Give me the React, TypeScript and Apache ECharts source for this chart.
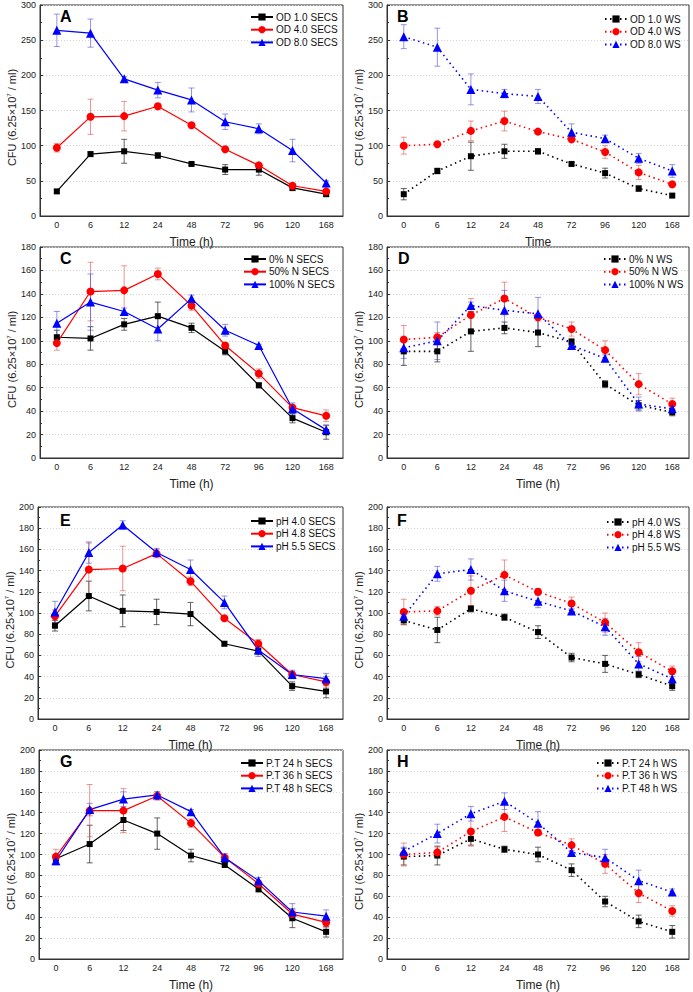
import { useEffect, useRef } from 'react';
import * as echarts from 'echarts';

const hours = ['0', '6', '12', '24', '48', '72', '96', '120', '168'];

// A: OD, SECS
const aOd10 = [35, 88, 92, 86, 74, 66, 66, 40, 31];
const aOd10Err = [2, 3, 17, 4, 2, 7, 8, 4, 3];
const aOd40 = [97, 141, 142, 156, 129, 95, 72, 43, 35];
const aOd40Err = [6, 25, 21, 4, 3, 2, 3, 2, 3];
const aOd80 = [264, 260, 195, 179, 165, 134, 124, 93, 47];
const aOd80Err = [23, 20, 3, 11, 17, 11, 7, 16, 3];

// B: OD, WS
const bOd10 = [31, 64, 85, 92, 92, 74, 61, 39, 29];
const bOd10Err = [8, 4, 20, 10, 4, 2, 7, 4, 2];
const bOd40 = [100, 102, 121, 135, 120, 109, 91, 62, 45];
const bOd40Err = [12, 2, 14, 14, 2, 4, 9, 10, 4];
const bOd80 = [255, 240, 180, 174, 170, 119, 110, 82, 64];
const bOd80Err = [17, 27, 22, 6, 10, 12, 5, 7, 9];

// C: nitrogen, SECS
const cN0 = [103, 102, 114, 121, 111, 91, 62, 34, 22];
const cN0Err = [6, 10, 5, 12, 4, 3, 2, 4, 6];
const cN50 = [98, 142, 143, 157, 130, 96, 72, 43, 36];
const cN50Err = [6, 25, 21, 5, 4, 2, 4, 2, 5];
const cN100 = [115, 133, 125, 110, 136, 109, 96, 42, 24];
const cN100Err = [10, 24, 3, 10, 3, 5, 1, 5, 4];

// D: nitrogen, WS
const dN0 = [91, 91, 108, 111, 107, 99, 63, 45, 39];
const dN0Err = [12, 9, 17, 5, 12, 3, 3, 4, 3];
const dN50 = [101, 103, 122, 136, 120, 110, 92, 63, 46];
const dN50Err = [12, 4, 14, 14, 3, 6, 8, 9, 5];
const dN100 = [94, 100, 130, 126, 123, 96, 85, 46, 42];
const dN100Err = [9, 16, 3, 17, 14, 2, 3, 6, 3];

// E: pH, SECS
const ePh40 = [88, 116, 102, 101, 99, 71, 64, 31, 26];
const ePh40Err = [5, 14, 15, 12, 11, 2, 3, 4, 6];
const ePh48 = [97, 141, 142, 156, 130, 95, 71, 42, 35];
const ePh48Err = [6, 25, 21, 4, 4, 2, 4, 3, 5];
const ePh55 = [101, 157, 183, 157, 141, 110, 65, 42, 38];
const ePh55Err = [10, 10, 4, 4, 9, 6, 6, 4, 5];

// F: pH, WS
const fPh40 = [93, 84, 104, 96, 82, 58, 52, 42, 31];
const fPh40Err = [4, 12, 3, 3, 6, 4, 8, 3, 4];
const fPh48 = [101, 102, 121, 136, 120, 109, 91, 63, 45];
const fPh48Err = [12, 4, 14, 14, 3, 6, 9, 9, 5];
const fPh55 = [97, 137, 141, 121, 111, 102, 87, 52, 38];
const fPh55Err = [6, 7, 10, 10, 6, 2, 8, 7, 4];

// G: pre-treatment time, SECS
const gPt24 = [96, 110, 133, 120, 99, 90, 67, 39, 26];
const gPt24Err = [4, 18, 10, 15, 6, 2, 3, 9, 5];
const gPt36 = [98, 142, 142, 156, 130, 97, 72, 43, 35];
const gPt36Err = [7, 25, 21, 4, 4, 2, 3, 4, 5];
const gPt48 = [94, 143, 153, 157, 141, 97, 75, 45, 41];
const gPt48Err = [4, 6, 7, 3, 2, 4, 3, 8, 6];

// H: pre-treatment time, WS
const hPt24 = [98, 99, 115, 105, 100, 85, 55, 36, 26];
const hPt24Err = [8, 9, 6, 3, 7, 6, 5, 6, 6];
const hPt36 = [100, 102, 122, 136, 121, 109, 91, 63, 46];
const hPt36Err = [11, 5, 14, 14, 3, 6, 9, 9, 5];
const hPt48 = [103, 120, 139, 151, 130, 102, 97, 75, 64];
const hPt48Err = [4, 9, 7, 8, 11, 2, 8, 10, 3];

const FONT = '"Liberation Sans", Arial, sans-serif';
const COLORS = ['#000000', '#ff0000', '#0000ff'];
const ERR_COLORS = ['rgba(50,50,50,0.75)', 'rgba(225,80,80,0.6)', 'rgba(80,80,210,0.6)'];
const SYMBOLS = ['rect', 'circle', 'triangle'];
const SYMBOL_SIZES = [6, 8, 9];

interface Panel {
  letter: string;
  names: string[];
  values: number[][];
  errs: number[][];
  dotted: boolean;
  max: number;
  interval: number;
  xName: string;
  grid: { left: number; top: number; width: number; height: number };
  letterPos: [number, number];
  legendPos: [number, number];
}

const panels: Panel[] = [
  {
    letter: 'A', names: ['OD 1.0 SECS', 'OD 4.0 SECS', 'OD 8.0 SECS'],
    values: [aOd10, aOd40, aOd80], errs: [aOd10Err, aOd40Err, aOd80Err],
    dotted: false, max: 300, interval: 50, xName: 'Time (h)',
    grid: { left: 40, top: 5, width: 303, height: 211 }, letterPos: [60, 8], legendPos: [250, 12],
  },
  {
    letter: 'B', names: ['OD 1.0 WS', 'OD 4.0 WS', 'OD 8.0 WS'],
    values: [bOd10, bOd40, bOd80], errs: [bOd10Err, bOd40Err, bOd80Err],
    dotted: true, max: 300, interval: 50, xName: 'Time',
    grid: { left: 387, top: 5, width: 302, height: 211 }, letterPos: [397, 8], legendPos: [604, 14],
  },
  {
    letter: 'C', names: ['0% N SECS', '50% N SECS', '100% N SECS'],
    values: [cN0, cN50, cN100], errs: [cN0Err, cN50Err, cN100Err],
    dotted: false, max: 180, interval: 20, xName: 'Time (h)',
    grid: { left: 40, top: 247, width: 303, height: 211 }, letterPos: [60, 250], legendPos: [243, 254],
  },
  {
    letter: 'D', names: ['0% N WS', '50% N WS', '100% N WS'],
    values: [dN0, dN50, dN100], errs: [dN0Err, dN50Err, dN100Err],
    dotted: true, max: 180, interval: 20, xName: 'Time (h)',
    grid: { left: 387, top: 247, width: 302, height: 211 }, letterPos: [398, 250], legendPos: [603, 254],
  },
  {
    letter: 'E', names: ['pH 4.0 SECS', 'pH 4.8 SECS', 'pH 5.5 SECS'],
    values: [ePh40, ePh48, ePh55], errs: [ePh40Err, ePh48Err, ePh55Err],
    dotted: false, max: 200, interval: 20, xName: 'Time (h)',
    grid: { left: 38, top: 507, width: 305, height: 212 }, letterPos: [60, 512], legendPos: [250, 516],
  },
  {
    letter: 'F', names: ['pH 4.0 WS', 'pH 4.8 WS', 'pH 5.5 WS'],
    values: [fPh40, fPh48, fPh55], errs: [fPh40Err, fPh48Err, fPh55Err],
    dotted: true, max: 200, interval: 20, xName: 'Time (h)',
    grid: { left: 387, top: 507, width: 302, height: 212 }, letterPos: [397, 512], legendPos: [606, 517],
  },
  {
    letter: 'G', names: ['P.T 24 h SECS', 'P.T 36 h SECS', 'P.T 48 h SECS'],
    values: [gPt24, gPt36, gPt48], errs: [gPt24Err, gPt36Err, gPt48Err],
    dotted: false, max: 200, interval: 20, xName: 'Time (h)',
    grid: { left: 39, top: 750, width: 304, height: 211 }, letterPos: [60, 753], legendPos: [240, 758],
  },
  {
    letter: 'H', names: ['P.T 24 h WS', 'P.T 36 h WS', 'P.T 48 h WS'],
    values: [hPt24, hPt36, hPt48], errs: [hPt24Err, hPt36Err, hPt48Err],
    dotted: true, max: 200, interval: 20, xName: 'Time (h)',
    grid: { left: 387, top: 750, width: 302, height: 211 }, letterPos: [397, 753], legendPos: [596, 758],
  },
];

function errorBarRender(color: string) {
  return (_params: any, api: any) => {
    const x = api.value(0);
    const y = api.value(1);
    const e = api.value(2);
    const hi = api.coord([x, y + e]);
    const lo = api.coord([x, y - e]);
    const cap = 3;
    const style = { stroke: color, lineWidth: 1 };
    return {
      type: 'group',
      children: [
        { type: 'line', shape: { x1: hi[0], y1: hi[1], x2: lo[0], y2: lo[1] }, style },
        { type: 'line', shape: { x1: hi[0] - cap, y1: hi[1], x2: hi[0] + cap, y2: hi[1] }, style },
        { type: 'line', shape: { x1: lo[0] - cap, y1: lo[1], x2: lo[0] + cap, y2: lo[1] }, style },
      ],
    };
  };
}

function buildOption(): echarts.EChartsOption {
  const grid: any[] = [];
  const xAxis: any[] = [];
  const yAxis: any[] = [];
  const legend: any[] = [];
  const series: any[] = [];
  const graphic: any[] = [];

  panels.forEach((p, pi) => {
    grid.push({ ...p.grid, show: true, borderColor: '#333', borderWidth: 1, backgroundColor: 'transparent' });
    xAxis.push({
      type: 'category',
      gridIndex: pi,
      data: hours,
      boundaryGap: true,
      name: p.xName,
      nameLocation: 'middle',
      nameGap: 20,
      nameTextStyle: { fontFamily: FONT, fontSize: 12, color: '#222' },
      axisLine: { lineStyle: { color: '#333', width: 1 } },
      axisTick: { alignWithLabel: true, length: 3, lineStyle: { color: '#333' } },
      axisLabel: { fontFamily: FONT, fontSize: 9, color: '#222', margin: 4 },
      splitLine: { show: false },
    });
    yAxis.push({
      type: 'value',
      gridIndex: pi,
      min: 0,
      max: p.max,
      interval: p.interval,
      name: 'CFU (6.25×10{s|7} / ml)',
      nameLocation: 'middle',
      nameRotate: 90,
      nameGap: pi % 2 === 0 ? 22 : 23,
      nameTextStyle: {
        fontFamily: FONT,
        fontSize: 11,
        color: '#222',
        padding: [0, 0, 0, -14],
        rich: { s: { fontFamily: FONT, fontSize: 6, color: '#222', verticalAlign: 'top', lineHeight: 8, padding: [0, 0, 5, 0] } },
      },
      axisLine: { show: true, lineStyle: { color: '#333', width: 1 } },
      axisTick: { show: true, inside: true, length: 3, lineStyle: { color: '#333' } },
      minorTick: { show: true, splitNumber: 2, length: 2, lineStyle: { color: '#333' } },
      axisLabel: { fontFamily: FONT, fontSize: 9, color: '#222', margin: 4 },
      splitLine: { show: true, lineStyle: { color: '#d4d4d4', type: [1, 2], width: 1 } },
    });
    legend.push({
      data: p.names,
      left: p.legendPos[0],
      top: p.legendPos[1],
      orient: 'vertical',
      itemWidth: 22,
      itemHeight: 9,
      itemGap: 2.7,
      padding: 0,
      selectedMode: false,
      textStyle: { fontFamily: FONT, fontSize: 10, color: '#111', padding: [0, 0, 0, -2] },
    });
    graphic.push({
      type: 'text',
      left: p.letterPos[0],
      top: p.letterPos[1],
      style: { text: p.letter, font: `bold 16px ${FONT}`, fill: '#000' },
    });

    p.names.forEach((name, si) => {
      series.push({
        type: 'custom',
        name: `${name} err`,
        xAxisIndex: pi,
        yAxisIndex: pi,
        z: 1,
        renderItem: errorBarRender(ERR_COLORS[si]),
        data: p.values[si].map((v, i) => [i, v, p.errs[si][i]]),
      });
      series.push({
        type: 'line',
        name,
        xAxisIndex: pi,
        yAxisIndex: pi,
        z: 3,
        data: p.values[si],
        symbol: SYMBOLS[si],
        symbolSize: SYMBOL_SIZES[si],
        itemStyle: { color: COLORS[si] },
        lineStyle: p.dotted
          ? { color: COLORS[si], width: 1.6, type: [1.5, 3.5] }
          : { color: COLORS[si], width: 1.2, type: 'solid' },
      });
    });
  });

  return {
    animation: false,
    backgroundColor: '#ffffff',
    grid,
    xAxis,
    yAxis,
    legend,
    series,
    graphic,
  };
}

export default function App() {
  const ref = useRef<HTMLDivElement>(null);

  useEffect(() => {
    if (!ref.current) return;
    const chart = echarts.init(ref.current, undefined, { renderer: 'svg' });
    chart.setOption(buildOption());
    return () => {
      chart.dispose();
    };
  }, []);

  return (
    <div
      ref={ref}
      style={{ position: 'absolute', left: 0, top: 0, width: '693px', height: '992px', background: '#fff' }}
    />
  );
}
